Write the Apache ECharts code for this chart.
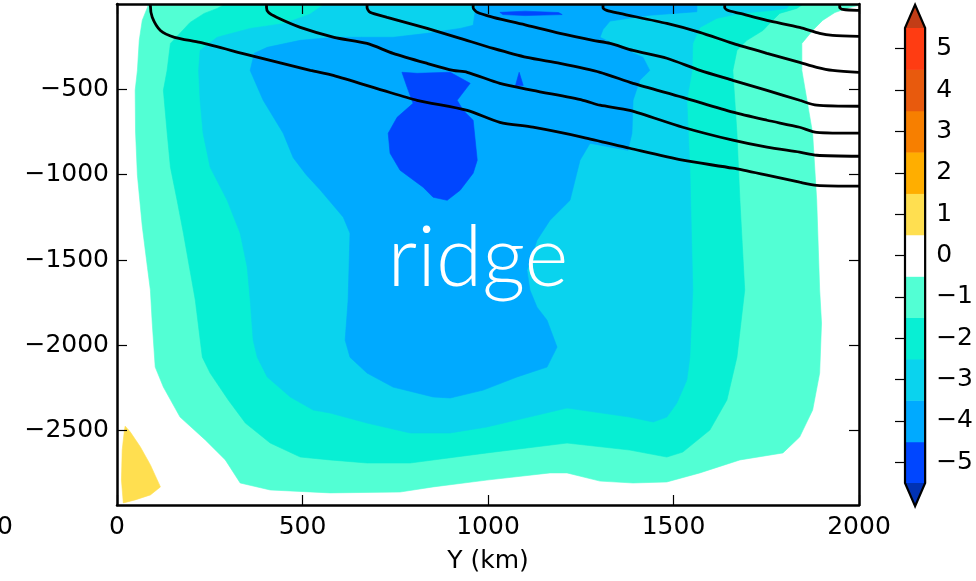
<!DOCTYPE html>
<html>
<head>
<meta charset="utf-8">
<script src="https://cdn.jsdelivr.net/npm/echarts@6/dist/echarts.min.js"></script>
<style>
  html, body { margin: 0; padding: 0; background: #fff; }
  #chart { width: 976px; height: 581px; }
</style>
</head>
<body>
<div id="chart"></div>
<script>
// ---- axes ----
const yKmTicks = [0, 500, 1000, 1500, 2000];
const depthTicks = [-2500, -2000, -1500, -1000, -500];
const depthMin = -2935;
const colorbarTicks = [-5, -4, -3, -2, -1, 0, 1, 2, 3, 4, 5];
const colorbarEdges = [-5.5, -4.5, -3.5, -2.5, -1.5, -0.5, 0.5, 1.5, 2.5, 3.5, 4.5, 5.5];

// ---- filled contour regions, [Y (km), depth (m)] ----
// region where the field is below -0.5
const levelMinus1 = [[85,0],[82,-20],[68,-96],[60,-213],[55,-389],[49,-506],[50,-750],[55,-1003],[68,-1300],[82,-1542],[90,-1676],[95,-1869],[103,-2127],[125,-2244],[170,-2420],[238,-2554],[292,-2671],[332,-2806],[413,-2847],[574,-2864],[763,-2859],[852,-2829],[997,-2789],[1167,-2747],[1213,-2747],[1302,-2795],[1391,-2806],[1482,-2800],[1571,-2747],[1679,-2671],[1795,-2630],[1840,-2537],[1875,-2379],[1894,-2162],[1899,-1869],[1894,-1676],[1886,-1150],[1875,-757],[1846,-389],[1846,-231],[1875,-155],[1902,-96],[1935,-50],[1975,-20],[2000,-8],[2000,0]];
// below -1.5
const levelMinus2 = [[292,0],[270,-26],[235,-55],[197,-108],[144,-231],[135,-389],[125,-506],[135,-750],[144,-956],[162,-1150],[179,-1343],[211,-1734],[230,-2069],[251,-2162],[300,-2320],[346,-2455],[413,-2572],[494,-2654],[574,-2671],[674,-2689],[790,-2689],[997,-2630],[1213,-2572],[1382,-2613],[1482,-2654],[1525,-2625],[1598,-2496],[1644,-2320],[1671,-2069],[1692,-1676],[1679,-1150],[1671,-757],[1660,-389],[1671,-272],[1698,-213],[1741,-155],[1759,-114],[1786,-55],[1832,-26],[1850,0]];
// below -2.5
const levelMinus3 = [[560,0],[520,-60],[451,-114],[359,-143],[270,-195],[224,-272],[220,-389],[224,-564],[232,-757],[251,-956],[297,-1150],[332,-1343],[351,-1542],[359,-1734],[367,-1969],[378,-2069],[405,-2185],[467,-2302],[529,-2379],[574,-2396],[674,-2455],[790,-2513],[898,-2513],[997,-2478],[1213,-2367],[1382,-2420],[1445,-2449],[1482,-2420],[1509,-2338],[1536,-2203],[1544,-2069],[1552,-1676],[1544,-956],[1536,-564],[1550,-389],[1552,-231],[1571,-137],[1617,-84],[1679,-55],[1768,-37],[1805,-26],[1815,0]];
// below -3.5
const levelMinus4 = [[970,0],[1563,0],[1563,-45],[1436,-66],[1329,-100],[1310,-150],[1302,-195],[1337,-231],[1418,-313],[1436,-389],[1409,-447],[1391,-564],[1388,-757],[1377,-857],[1275,-816],[1248,-915],[1221,-1150],[1167,-1267],[1132,-1384],[1105,-1560],[1113,-1676],[1132,-1776],[1159,-1852],[1186,-2010],[1159,-2127],[1078,-2185],[987,-2262],[898,-2308],[852,-2302],[744,-2244],[674,-2162],[628,-2069],[615,-1969],[623,-1734],[628,-1343],[610,-1249],[548,-1090],[510,-1000],[475,-900],[448,-757],[394,-564],[359,-389],[370,-289],[405,-254],[494,-213],[585,-195],[660,-195],[745,-195],[836,-172],[925,-143],[960,-125],[967,-20]];
// below -4.5
const levelMinus5Core = [[768,-400],[809,-406],[898,-400],[952,-465],[917,-564],[933,-623],[960,-681],[971,-915],[960,-991],[925,-1091],[890,-1150],[852,-1132],[825,-1073],[763,-974],[736,-874],[731,-757],[755,-664],[798,-582],[782,-488]];
const levelMinus5Spike = [[1084,-400],[1095,-478],[1074,-478]];
const levelMinus5Surface = [[1032,-49],[1100,-42],[1190,-50],[1200,-62],[1100,-68],[1040,-62]];
// above 0.5
const levelPlus1 = [[22,-2473],[36,-2508],[63,-2595],[90,-2700],[117,-2829],[90,-2876],[49,-2905],[17,-2923],[12,-2789],[14,-2613],[20,-2496]];

// ---- overlaid contour lines ----
const contour1 = [[90,0],[90,-8],[95,-78],[117,-155],[155,-195],[224,-225],[359,-301],[521,-389],[583,-418],[717,-506],[809,-564],[944,-623],[1032,-693],[1121,-722],[1256,-781],[1382,-845],[1525,-915],[1660,-962],[1752,-1003],[1840,-1044],[1886,-1062],[2000,-1067]];
const contour2 = [[403,0],[403,-20],[408,-49],[430,-78],[494,-137],[585,-195],[674,-231],[744,-289],[836,-348],[906,-389],[944,-400],[1032,-465],[1121,-506],[1256,-564],[1302,-593],[1382,-623],[1525,-722],[1660,-798],[1752,-839],[1840,-868],[1886,-886],[2000,-892]];
const contour3 = [[674,0],[674,-20],[682,-49],[728,-78],[836,-143],[925,-201],[1014,-260],[1105,-313],[1194,-348],[1302,-400],[1391,-465],[1525,-547],[1660,-634],[1752,-681],[1840,-722],[1886,-752],[2000,-757]];
const contour4 = [[960,0],[960,-20],[971,-49],[1014,-78],[1105,-125],[1194,-172],[1283,-213],[1329,-231],[1391,-272],[1482,-318],[1571,-389],[1660,-447],[1752,-506],[1840,-564],[1886,-593],[2000,-599]];
const contour5 = [[1310,0],[1310,-20],[1320,-37],[1355,-55],[1482,-114],[1571,-166],[1660,-231],[1752,-289],[1840,-342],[1886,-371],[1929,-389],[2000,-400]];
const contour6 = [[1638,0],[1638,-20],[1646,-37],[1679,-55],[1752,-96],[1840,-137],[1894,-172],[1929,-184],[2000,-190]];
const contour7 = [[1948,0],[1948,-20],[1956,-32],[1994,-37],[2000,-37]];

// ---- palette ----
const binColors = ['#0046ff', '#00aaff', '#0ad3ee', '#08efd4', '#52ffd4', '#ffffff',
                   '#ffdf50', '#ffae00', '#f77f00', '#e85a0d', '#ff3c12'];
const underColor = '#0032b4';
const overColor = '#c23d16';

const FONT = 'DejaVu Sans';
const LABEL_SIZE = 25;
const minus = v => (v < 0 ? '\u2212' + Math.abs(v) : String(v));

function regionSeries(pts, color) {
  return {
    type: 'custom',
    xAxisIndex: 0, yAxisIndex: 0,
    clip: true, silent: true,
    data: [[0, 0]],
    renderItem: (params, api) => ({
      type: 'polygon',
      shape: { points: pts.map(p => api.coord(p)) },
      style: { fill: color, stroke: color, lineWidth: 0.6 }
    })
  };
}

function contourSeries(pts) {
  return {
    type: 'line',
    xAxisIndex: 0, yAxisIndex: 0,
    data: pts,
    showSymbol: false, symbol: 'none',
    smooth: 0.25, clip: true, silent: true,
    lineStyle: { color: '#000', width: 2.8 },
    z: 4
  };
}

const colorbarSeries = {
  type: 'custom',
  xAxisIndex: 2, yAxisIndex: 2,
  clip: false, silent: true,
  data: [[0, 0]],
  renderItem: (params, api) => {
    const children = [];
    const extH = 0.56;
    for (let i = 0; i < binColors.length; i++) {
      const a = api.coord([0, colorbarEdges[i + 1]]);
      const b = api.coord([1, colorbarEdges[i]]);
      children.push({ type: 'rect', shape: { x: a[0], y: a[1], width: b[0] - a[0], height: b[1] - a[1] + 0.5 },
        style: { fill: binColors[i] } });
    }
    const lo = colorbarEdges[0], hi = colorbarEdges[colorbarEdges.length - 1];
    const bl = api.coord([0, lo]), br = api.coord([1, lo]), tl = api.coord([0, hi]), tr = api.coord([1, hi]);
    const bApex = api.coord([0.5, lo - extH]), tApex = api.coord([0.5, hi + extH]);
    children.push({ type: 'polygon', shape: { points: [bl, br, bApex] }, style: { fill: underColor } });
    children.push({ type: 'polygon', shape: { points: [tl, tr, tApex] }, style: { fill: overColor } });
    children.push({ type: 'polygon', shape: { points: [bApex, bl, tl, tApex, tr, br] },
      style: { fill: 'none', stroke: '#000', lineWidth: 2.2, lineJoin: 'miter' } });
    return { type: 'group', children };
  }
};

const axisLineStyle = { color: '#000', width: 2.5 };
const tickStyle = { color: '#000', width: 1.2 };

const option = {
  animation: false,
  backgroundColor: '#fff',
  grid: [
    { left: 117, top: 4, width: 742, height: 501 },
    { left: 905, top: 28, width: 24, height: 455 }
  ],
  xAxis: [
    { gridIndex: 0, type: 'value', position: 'bottom', min: 0, max: 2000, interval: 500,
      axisLine: { onZero: false, lineStyle: axisLineStyle },
      axisTick: { inside: true, length: 10, lineStyle: tickStyle },
      axisLabel: { fontFamily: FONT, fontSize: LABEL_SIZE, color: '#000', margin: 10,
        customValues: yKmTicks, formatter: minus },
      splitLine: { show: false },
      name: 'Y (km)', nameLocation: 'middle', nameGap: 44,
      nameTextStyle: { fontFamily: FONT, fontSize: LABEL_SIZE, color: '#000' },
      z: 6 },
    { gridIndex: 0, type: 'value', position: 'top', min: 0, max: 2000, interval: 500,
      axisLine: { onZero: false, lineStyle: axisLineStyle },
      axisTick: { inside: true, length: 10, lineStyle: tickStyle },
      axisLabel: { show: false }, splitLine: { show: false }, z: 6 },
    { gridIndex: 1, type: 'value', min: 0, max: 1, show: false }
  ],
  yAxis: [
    { gridIndex: 0, type: 'value', position: 'left', min: depthMin, max: 0,
      axisLine: { onZero: false, lineStyle: axisLineStyle },
      axisTick: { inside: true, length: 10, lineStyle: tickStyle, customValues: depthTicks },
      axisLabel: { fontFamily: FONT, fontSize: LABEL_SIZE, color: '#000', margin: 8,
        customValues: depthTicks, formatter: minus },
      splitLine: { show: false }, z: 6 },
    { gridIndex: 0, type: 'value', position: 'right', min: depthMin, max: 0,
      axisLine: { onZero: false, lineStyle: axisLineStyle },
      axisTick: { inside: true, length: 10, lineStyle: tickStyle, customValues: depthTicks },
      axisLabel: { show: false }, splitLine: { show: false }, z: 6 },
    { gridIndex: 1, type: 'value', position: 'right', min: -5.5, max: 5.5,
      axisLine: { show: false },
      axisTick: { inside: true, length: 10, lineStyle: { color: '#000', width: 1.2 }, customValues: colorbarTicks },
      axisLabel: { fontFamily: FONT, fontSize: LABEL_SIZE, color: '#000', margin: 11,
        customValues: colorbarTicks, formatter: minus },
      splitLine: { show: false }, z: 6 }
  ],
  graphic: [
    { type: 'text', x: 478, y: 259, z: 100,
      style: { text: 'ridge', fill: '#fff', fontFamily: 'Lato', fontWeight: 300, fontSize: 84,
        align: 'center', verticalAlign: 'middle' } },
    { type: 'text', x: 13, y: 527, z: 100,
      style: { text: '2000', fill: '#000', fontFamily: FONT, fontSize: LABEL_SIZE,
        align: 'right', verticalAlign: 'middle' } }
  ],
  series: [
    regionSeries(levelMinus1, binColors[4]),
    regionSeries(levelPlus1, binColors[6]),
    regionSeries(levelMinus2, binColors[3]),
    regionSeries(levelMinus3, binColors[2]),
    regionSeries(levelMinus4, binColors[1]),
    regionSeries(levelMinus5Core, binColors[0]),
    regionSeries(levelMinus5Spike, binColors[0]),
    regionSeries(levelMinus5Surface, binColors[0]),
    contourSeries(contour1),
    contourSeries(contour2),
    contourSeries(contour3),
    contourSeries(contour4),
    contourSeries(contour5),
    contourSeries(contour6),
    contourSeries(contour7),
    colorbarSeries
  ]
};

const chart = echarts.init(document.getElementById('chart'), null, { renderer: 'canvas' });
chart.setOption(option);
</script>
</body>
</html>
